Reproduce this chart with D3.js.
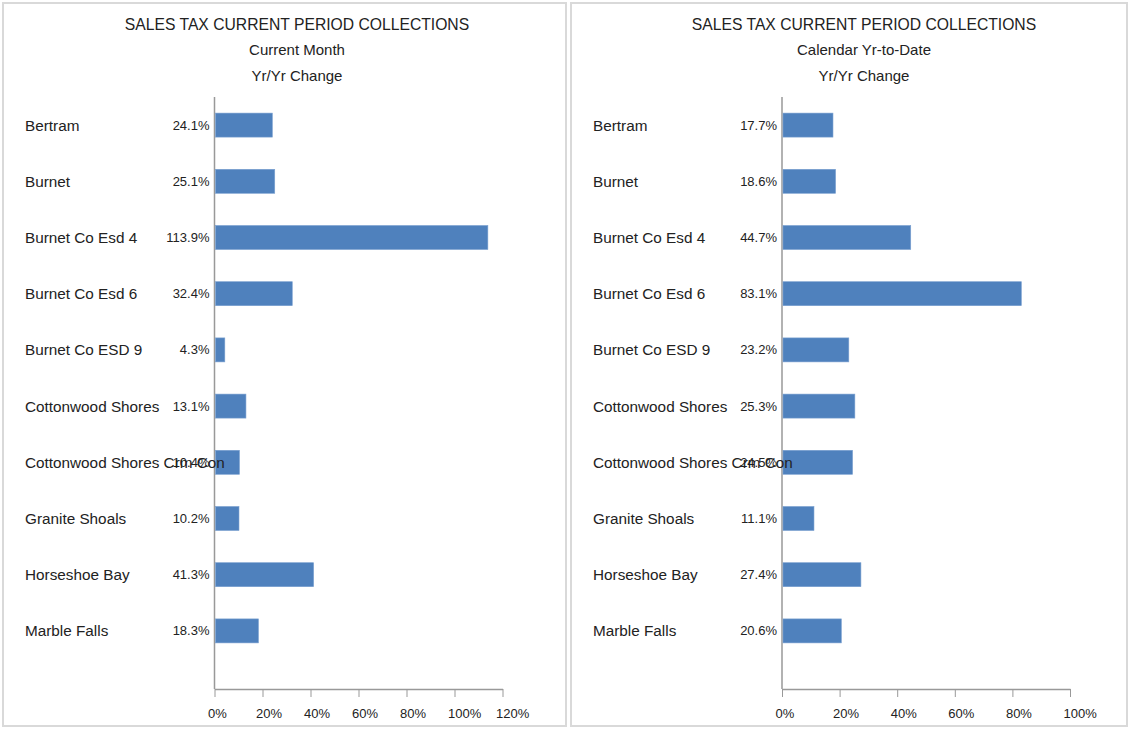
<!DOCTYPE html>
<html>
<head>
<meta charset="utf-8">
<script src="https://cdn.jsdelivr.net/npm/d3@7"></script>
<style>
  body { margin: 0; background: #fff; font-family: "Liberation Sans", Arial, sans-serif; }
  svg text { fill: #222; }
</style>
</head>
<body>
<svg id="chart" width="1130" height="729"></svg>
<script>
// data
var categories = ['Bertram', 'Burnet', 'Burnet Co Esd 4', 'Burnet Co Esd 6', 'Burnet Co ESD 9',
  'Cottonwood Shores', 'Cottonwood Shores Crm Con', 'Granite Shoals', 'Horseshoe Bay', 'Marble Falls'];
var current_month = [24.1, 25.1, 113.9, 32.4, 4.3, 13.1, 10.4, 10.2, 41.3, 18.3];
var year_to_date = [17.7, 18.6, 44.7, 83.1, 23.2, 25.3, 24.5, 11.1, 27.4, 20.6];
var month_ticks = [0, 20, 40, 60, 80, 100, 120];
var ytd_ticks = [0, 20, 40, 60, 80, 100];
var title = 'SALES TAX CURRENT PERIOD COLLECTIONS';

var svg = d3.select('#chart');

function draw_panel(opts) {
    var g = svg.append('g');
    g.append('rect').attr('x', opts.px).attr('y', 3).attr('width', opts.pw).attr('height', 723)
        .attr('fill', '#fff').attr('stroke', '#d9d9d9').attr('stroke-width', 2);

    var t = g.append('g').attr('text-anchor', 'middle');
    t.append('text').attr('x', opts.cx).attr('y', 30).attr('font-size', 15.7).text(title);
    t.append('text').attr('x', opts.cx).attr('y', 55).attr('font-size', 15).text(opts.sub);
    t.append('text').attr('x', opts.cx).attr('y', 81).attr('font-size', 15).text('Yr/Yr Change');

    var x = d3.scaleLinear().domain([0, d3.max(opts.ticks)]).range([opts.x0, opts.x0 + opts.xw]);
    var y = d3.scaleBand().domain(categories).range([97, 659]).paddingInner(0.573).paddingOuter(0.2865);

    // x axis
    var xa = g.append('g').attr('transform', 'translate(0,689)')
        .call(d3.axisBottom(x).tickValues(opts.ticks).tickSize(8).tickSizeOuter(0).tickFormat(d => d + '%'));
    xa.select('.domain').attr('stroke', '#999').attr('stroke-width', 1.5);
    xa.selectAll('.tick line').attr('stroke', '#999');
    // tick labels sit left-aligned just before the tick, like the original
    xa.selectAll('.tick text').attr('font-size', 13).attr('font-family', '"Liberation Sans", Arial, sans-serif')
        .attr('fill', '#222').attr('y', 20).attr('text-anchor', 'start').attr('x', -7);

    // y axis line
    g.append('line').attr('x1', x(0)).attr('x2', x(0)).attr('y1', 97).attr('y2', 689)
        .attr('stroke', '#999').attr('stroke-width', 1.5);

    var rows = categories.map((c, i) => ({ name: c, v: opts.values[i] }));

    g.selectAll('.bar').data(rows).enter().append('rect')
        .attr('x', x(0) + 1).attr('y', d => y(d.name))
        .attr('width', d => x(d.v) - x(0) - 1).attr('height', y.bandwidth())
        .attr('fill', '#4f81bd').attr('stroke', '#7aa0d0').attr('stroke-width', 0.6);

    g.selectAll('.cat').data(rows).enter().append('text')
        .attr('x', opts.px + 22).attr('y', d => y(d.name) + y.bandwidth() / 2 + 5.5)
        .attr('font-size', 15.3).text(d => d.name);

    g.selectAll('.val').data(rows).enter().append('text')
        .attr('x', x(0) - 5).attr('y', d => y(d.name) + y.bandwidth() / 2 + 4.5)
        .attr('text-anchor', 'end').attr('font-size', 13).text(d => d.v.toFixed(1) + '%');
}

draw_panel({ px: 3, pw: 563, cx: 297, sub: 'Current Month', values: current_month, ticks: month_ticks, x0: 214.5, xw: 288 });
draw_panel({ px: 571, pw: 556, cx: 864, sub: 'Calendar Yr-to-Date', values: year_to_date, ticks: ytd_ticks, x0: 782, xw: 288 });
</script>
</body>
</html>
